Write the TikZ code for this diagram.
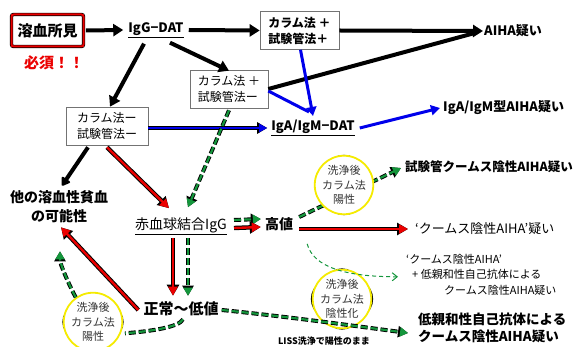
\documentclass[tikz,border=0pt]{standalone}
\usepackage{fontspec}
\setmainfont{Noto Sans CJK JP}
\usetikzlibrary{arrows.meta,calc}
\definecolor{gr}{RGB}{20,150,60}
\definecolor{bl}{RGB}{0,0,235}
\definecolor{yl}{RGB}{245,235,0}
\definecolor{rd}{RGB}{235,0,0}
\tikzset{
 box/.style={draw=black!55, line width=0.6pt, fill=white, align=left, inner xsep=5pt, inner ysep=3pt, minimum height=38pt},
 hembox/.style={draw=black, double=rd, double distance=2pt, line width=0.7pt, rounded corners=2pt, minimum width=72pt, minimum height=32pt, fill=white},
 circ/.style={circle, draw=yl, line width=1.8pt, fill=white, minimum size=56pt, inner sep=0pt, align=center, font=\fontsize{11}{14.5}\selectfont, text=black!80},
 shadowring/.style={draw=black, line width=1.3pt},
 blk/.style={draw=black, line width=4pt, -{Triangle[length=10pt,width=12pt]}},
 blkround/.style={draw=black, line width=4pt, -{Triangle[round,length=9pt,width=11pt]}},
 blkline/.style={draw=black, line width=4pt},
 blu/.style={draw=bl, line width=3pt, -{Triangle[length=9pt,width=10pt]}},
 bluline/.style={draw=bl, line width=3pt},
 bluo/.style={preaction={draw=black,line width=4.4pt,-{Triangle[length=10pt,width=11pt]}}, draw=bl, line width=2.2pt, -{Triangle[length=8pt,width=8pt]}},
 redarr/.style={preaction={draw=black,line width=4.4pt,-{Triangle[length=11pt,width=12pt]}}, draw=rd, line width=2.4pt, -{Triangle[length=9pt,width=9pt]}},
 grn/.style={preaction={draw=black,line width=4pt,dash pattern=on 7pt off 3pt,-{Triangle[length=10pt,width=11pt]}}, draw=gr, line width=2.2pt, dash pattern=on 7pt off 3pt, -{Triangle[length=8pt,width=9pt]}},
 grnline/.style={preaction={draw=black,line width=4pt,dash pattern=on 7pt off 3pt}, draw=gr, line width=2.2pt, dash pattern=on 7pt off 3pt},
 thingrn/.style={draw=gr, line width=1pt, dash pattern=on 4pt off 3pt, -{Straight Barb[length=5pt,width=8pt]}},
}
\begin{document}
\begin{tikzpicture}[x=1pt,y=-1pt]
\useasboundingbox (0,0) rectangle (576,347);
\fill[white] (0,0) rectangle (576,347);
\clip (0,0) rectangle (576,347);

% text nodes and boxes
\node[hembox, font=\fontsize{15}{18}\selectfont\bfseries] (hem) at (47.5,30.5) {溶血所見};
\node[text=rd, font=\fontsize{15}{18}\selectfont\bfseries] (must) at (54,63) {必須！！};
\node[inner sep=1pt, font=\fontsize{13}{15}\selectfont\bfseries] (igg) at (156,30) {\underline{IgG−DAT}};
\node[box, minimum width=79pt, font=\fontsize{12}{16}\selectfont\bfseries] (b1) at (299.5,30.5) {カラム法 ＋\\試験管法＋};
\node[box, minimum width=78pt, font=\fontsize{12}{16}\selectfont] (b2) at (229,89) {カラム法 ＋\\試験管法ー};
\node[box, minimum width=82pt, font=\fontsize{12}{16}\selectfont] (b3) at (107,126) {カラム法ー\\試験管法ー};
\node[anchor=west, inner sep=1pt, font=\fontsize{13}{15}\selectfont\bfseries] (aiha) at (483,31) {AIHA疑い};
\node[inner sep=1pt, font=\fontsize{13}{15}\selectfont\bfseries] (iga) at (313,128) {\underline{IgA/IgM−DAT}};
\node[anchor=west, inner sep=1pt, font=\fontsize{13}{15}\selectfont\bfseries] (igaaiha) at (442,108) {IgA/IgM型AIHA疑い};
\node[align=center, inner sep=1pt, font=\fontsize{14}{19}\selectfont\bfseries] (other) at (59,207) {他の溶血性貧血\\の可能性};
\node[inner sep=1pt, font=\fontsize{14}{16}\selectfont] (rbc) at (181,226) {\underline{赤血球結合IgG}};
\node[inner sep=1pt, font=\fontsize{14}{16}\selectfont\bfseries] (high) at (279,224) {高値};
\node[anchor=west, inner sep=1pt, font=\fontsize{12.5}{15}\selectfont\bfseries] (t1) at (404,167) {試験管クームス陰性AIHA疑い};
\node[anchor=west, inner sep=1pt, font=\fontsize{13}{15}\selectfont] (t2) at (414,229) {‘クームス陰性AIHA’疑い};
\node[anchor=north west, align=left, inner sep=0pt, font=\fontsize{11}{15.5}\selectfont] (t3) at (406,254) {‘クームス陰性AIHA’\\\hspace*{6pt}+ 低親和性自己抗体による\\\hspace*{38pt}クームス陰性AIHA疑い};
\node[inner sep=1pt, font=\fontsize{15}{18}\selectfont\bfseries] (low) at (181,309) {正常～低値};
\node[anchor=north west, align=left, inner sep=0pt, font=\fontsize{13.5}{16.5}\selectfont\bfseries] (t4) at (418,313) {低親和性自己抗体による\\クームス陰性AIHA疑い};
\node[inner sep=1pt, font=\fontsize{9}{11}\selectfont\bfseries] (liss) at (324,341) {LISS洗浄で陽性のまま};

% black connectors
\draw[blk] ($(hem.east)+(2,0)$) -- ($(igg.west)+(-4,0)$);
\draw[blk] ($(igg.east)+(4,0)$) -- (b1.west);
\draw[blkline] (b2.east) -- ($(aiha.west)+(-10,2.5)$);
\draw[blk] (b1.east) -- (aiha.west);
\draw[blk] ($(igg.south)+(14,4)$) -- ($(b2.north)+(0,1)$);
\draw[blk] ($(igg.south)+(-12,5)$) -- ($(b3.north)+(3,0)$);
\draw[blkround] ($(b3.south)+(-19,2)$) -- ($(other.north)+(3,-4)$);

% blue connectors
\draw[blu] ($(b1.south)+(1,0)$) -- ($(iga.north)+(0,-3)$);
\draw[bluline] ($(b2.east)+(0,2)$) -- ($(iga.north)+(-4,-7)$);
\draw[bluo] (b3.east |- iga.west) -- ($(iga.west)+(-3,0)$);
\draw[blu] ($(iga.east)+(4,0)$) -- ($(igaaiha.west)+(-2,0)$);

% red / green from boxes
\draw[redarr] ($(b3.south)+(0,2)$) -- ($(rbc.north)+(-12,-8)$);
\draw[grn] ($(b2.south)+(0,2)$) -- ($(rbc.north)+(7,-9)$);

% rbc -> high
\draw[grn] ($(rbc.east)+(6,-6)$) -- ($(high.west)+(-3,-5)$);
\draw[redarr] ($(rbc.east)+(6,2)$) -- ($(high.west)+(-3,3)$);

% rbc -> low
\draw[redarr] ($(rbc.south)+(-8,2)$) -- ($(low.north)+(-8,-5)$);
\draw[grn] ($(rbc.south)+(7,2)$) -- ($(low.north)+(7,-5)$);

% high -> results
\draw[grn] ($(high.east)+(5,-7)$) -- ($(t1.west)+(-3,1)$);
\draw[redarr] ($(high.east)+(5,5)$) -- ($(t2.west)+(-6,0)$);

% low -> other
\draw[redarr] ($(low.west)+(-4,1)$) -- ($(other.south)+(2,3)$);

% circles
\draw[shadowring] (344,185) ellipse [x radius=24pt, y radius=29.5pt];
\node[circ] (circ1) at (344,185) {洗浄後\\カラム法\\陽性};
\draw[shadowring] (93,322) ellipse [x radius=30pt, y radius=22pt];
\node[circ] (circ2) at (93,322) {洗浄後\\カラム法\\陽性};
\draw[shadowring] (342,299) ellipse [x radius=30.5pt, y radius=24pt];
\draw[shadowring] (342,299) ellipse [x radius=22pt, y radius=30pt];
\node[circ, minimum size=58pt] (circ3) at (342,299) {洗浄後\\カラム法\\陰性化};

% connectors over circles
\draw[grnline] ($(low.south)+(2,2)$) .. controls +(-4,8) and +(25,-2) .. ($(circ2.-22)+(4,0)$);
\draw[grn] (circ2.125) .. controls +(-8,-15) and +(0,12) .. ($(other.south)+(1,27)$);
\draw[thingrn] ($(high.south east)+(13,12)$) .. controls +(6,23) and +(-53,0) .. ($(t3.west)+(-8,2)$);
\draw[grn] ($(low.east)+(2,1)$) .. controls +(60,6) and +(-60,-8) .. ($(t4.north west)+(-10,20)$);
\end{tikzpicture}
\end{document}
